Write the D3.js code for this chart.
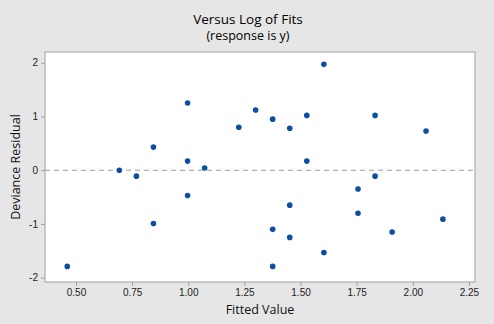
<!DOCTYPE html>
<html><head><meta charset="utf-8">
<script src="https://cdn.jsdelivr.net/npm/d3@7/dist/d3.min.js"></script>
<style>
html,body{margin:0;padding:0;background:#e6e6e6;}
svg{display:block;font-family:"Open Sans","DejaVu Sans",sans-serif;}
</style></head>
<body>
<svg id="chart" width="494" height="324"></svg>
<script>
const fittedValues = [0.693,0.769,0.845,0.997,0.997,1.073,1.225,1.300,1.376,1.452,1.528,1.604,1.528,1.832,2.059,1.832,
  0.845,0.997,0.461,1.756,1.452,1.756,2.134,1.376,1.908,1.452,1.604,1.376];
const devianceResiduals = [0.00,-0.11,0.43,1.25,0.17,0.04,0.80,1.12,0.95,0.78,1.02,1.97,0.17,1.02,0.73,-0.11,
  -0.99,-0.47,-1.79,-0.35,-0.65,-0.80,-0.91,-1.10,-1.15,-1.25,-1.53,-1.79];
const xTicks = [0.50,0.75,1.00,1.25,1.50,1.75,2.00,2.25];
const yTicks = [-2,-1,0,1,2];
const titleText = "Versus Log of Fits";
const subtitleText = "(response is y)";
const xLabel = "Fitted Value";
const yLabel = "Deviance Residual";

const svg = d3.select("#chart");
const L = 45, R = 475, T = 52, B = 282;
const x = d3.scaleLinear().domain([0.362, 2.277]).range([L, R]);
const y = d3.scaleLinear().domain([-2.08, 2.20]).range([B, T]);

svg.append("rect").attr("x", L).attr("y", T).attr("width", R - L).attr("height", B - T)
  .attr("fill", "#fff").attr("stroke", "#a0a0a0").attr("stroke-width", 1);

// reference line
svg.append("line").attr("x1", L).attr("x2", R).attr("y1", y(0)).attr("y2", y(0))
  .attr("stroke", "#9a9a9a").attr("stroke-width", 1).attr("stroke-dasharray", "5,4");

const xAxis = svg.append("g").attr("transform", `translate(0,${B})`)
  .call(d3.axisBottom(x).tickValues(xTicks).tickFormat(d3.format(".2f")).tickSize(4).tickPadding(3));
const yAxis = svg.append("g").attr("transform", `translate(${L},0)`)
  .call(d3.axisLeft(y).tickValues(yTicks).tickFormat(d => d < 0 ? "-" + Math.abs(d) : d).tickSize(4).tickPadding(3));
[xAxis, yAxis].forEach(g => {
  g.select(".domain").remove();
  g.selectAll(".tick line").attr("stroke", "#a0a0a0");
  g.selectAll(".tick text").attr("fill", "#222").style("font-size", "10px");
});

svg.append("g").selectAll("circle").data(fittedValues).join("circle")
  .attr("cx", d => x(d)).attr("cy", (d, i) => y(devianceResiduals[i]))
  .attr("r", 2.8).attr("fill", "#0b4ea2");

svg.append("text").attr("x", 248).attr("y", 24).attr("text-anchor", "middle")
  .style("font-size", "13.5px").style("font-weight", "500").attr("fill", "#000").text(titleText);
svg.append("text").attr("x", 248).attr("y", 40).attr("text-anchor", "middle")
  .style("font-size", "12.5px").attr("fill", "#000").text(subtitleText);
svg.append("text").attr("x", 260).attr("y", 314).attr("text-anchor", "middle")
  .style("font-size", "12.5px").attr("fill", "#111").text(xLabel);
svg.append("text").attr("transform", "translate(20,167) rotate(-90)").attr("text-anchor", "middle")
  .style("font-size", "12.5px").attr("fill", "#111").text(yLabel);
</script>
</body></html>
